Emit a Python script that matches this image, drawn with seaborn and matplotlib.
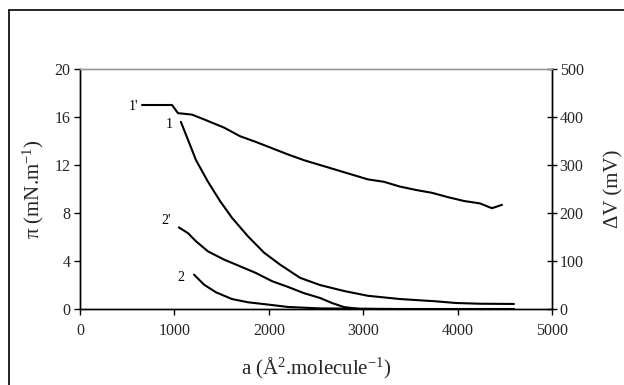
import matplotlib
matplotlib.use("Agg")
import matplotlib.pyplot as plt
from matplotlib.lines import Line2D
import seaborn as sns
import pandas as pd

# ---- data ----
# curve 1: surface pressure (mN/m), left axis
area_1 = [1068, 1144, 1229, 1356, 1483, 1610, 1780, 1949, 2119, 2331, 2542,
          2797, 3051, 3390, 3771, 3983, 4237, 4597]
pi_1 = [15.6, 14.1, 12.4, 10.6, 9.0, 7.6, 6.05, 4.7, 3.7, 2.6, 2.0,
        1.5, 1.1, 0.83, 0.64, 0.5, 0.44, 0.42]

# curve 2: surface pressure (mN/m), left axis
area_2 = [1208, 1314, 1441, 1610, 1780, 2034, 2203, 2542, 3390, 4600]
pi_2 = [2.86, 2.03, 1.39, 0.83, 0.56, 0.33, 0.17, 0.05, 0.0, 0.0]

# curve 1': surface potential (mV), right axis
area_1p = [657, 975, 1038, 1186, 1314, 1525, 1695, 1864, 2034, 2203, 2373,
           2542, 2712, 2881, 3051, 3220, 3390, 3559, 3729, 3898, 4068,
           4237, 4364, 4470]
dv_1p = [425, 425, 408, 405, 395, 378, 360, 348, 335, 322, 310,
         300, 290, 280, 270, 265, 255, 248, 242, 233, 225,
         220, 210, 217]

# curve 2': surface potential (mV), right axis
area_2p = [1047, 1144, 1229, 1356, 1525, 1695, 1864, 2034, 2203, 2373,
           2542, 2669, 2797, 2966, 3100]
dv_2p = [170, 158, 141, 120, 103, 89, 75, 58, 46, 33,
         23, 12.5, 4, 0, 0]

x_ticks = [0, 1000, 2000, 3000, 4000, 5000]
left_ticks = [0, 4, 8, 12, 16, 20]
right_ticks = [0, 100, 200, 300, 400, 500]

# ---- style ----
sns.set_style("white")
plt.rcParams["font.family"] = ["Liberation Serif", "DejaVu Serif"]
plt.rcParams["mathtext.fontset"] = "custom"
plt.rcParams["mathtext.rm"] = "Liberation Serif"
plt.rcParams["mathtext.it"] = "Liberation Serif:italic"
plt.rcParams["mathtext.bf"] = "Liberation Serif:bold"

fig = plt.figure(figsize=(6.24, 3.85), dpi=100)
ax = fig.add_axes([80 / 624, 1 - 309 / 385, 472 / 624, 240 / 385])
ax2 = ax.twinx()

df1 = pd.DataFrame({"a": area_1, "v": pi_1})
df2 = pd.DataFrame({"a": area_2, "v": pi_2})
df1p = pd.DataFrame({"a": area_1p, "v": dv_1p})
df2p = pd.DataFrame({"a": area_2p, "v": dv_2p})

lw = 1.5
sns.lineplot(data=df1, x="a", y="v", ax=ax, color="black", lw=lw)
sns.lineplot(data=df2, x="a", y="v", ax=ax, color="black", lw=lw)
sns.lineplot(data=df1p, x="a", y="v", ax=ax2, color="black", lw=lw)
sns.lineplot(data=df2p, x="a", y="v", ax=ax2, color="black", lw=lw)

ax.set_xlim(0, 5000)
ax.set_ylim(0, 20)
ax2.set_ylim(0, 500)
ax.set_xticks(x_ticks)
ax.set_yticks(left_ticks)
ax2.set_yticks(right_ticks)
ax.set_xticklabels([str(t) for t in x_ticks])
ax.set_yticklabels([str(t) for t in left_ticks])
ax2.set_yticklabels([str(t) for t in right_ticks])

for a in (ax, ax2):
    for s in a.spines.values():
        s.set_color("black")
        s.set_linewidth(1.0)
    a.spines["top"].set_color("#9a9a9a")

tick_fs = 11.5
ax.tick_params(axis="x", direction="out", length=4, width=1, color="black",
               labelsize=tick_fs, pad=6)
ax.tick_params(axis="y", direction="out", length=4, width=1, color="black",
               labelsize=tick_fs, pad=3)
ax2.tick_params(axis="y", direction="inout", length=7, width=1, color="black",
                labelsize=tick_fs, pad=2, right=True)
ax.tick_params(left=True, bottom=True)

ax.set_xlabel("a (Å$^{2}$.molecule$^{\\mathrm{-1}}$)", fontsize=15, labelpad=12)
ax.set_ylabel("π (mN.m$^{\\mathrm{-1}}$)", fontsize=15, labelpad=6)
ax2.set_ylabel("ΔV (mV)", fontsize=15, labelpad=15, rotation=90)

# curve labels
lab_kw = dict(fontsize=10, color="black", ha="right", va="center")
ax.text(620, 16.9, "1'", **lab_kw)
ax.text(980, 15.4, "1", **lab_kw)
ax.text(960, 7.4, "2'", **lab_kw)
ax.text(1110, 2.6, "2", **lab_kw)

# outer frame (cropped at right and bottom)
x0 = 9 / 624
y0 = 1 - 10 / 385
fig.add_artist(Line2D([x0, x0], [0, y0], transform=fig.transFigure,
                      color="black", lw=1.2))
fig.add_artist(Line2D([x0, 1], [y0, y0], transform=fig.transFigure,
                      color="black", lw=1.2))

fig.savefig("out.png", dpi=100)
